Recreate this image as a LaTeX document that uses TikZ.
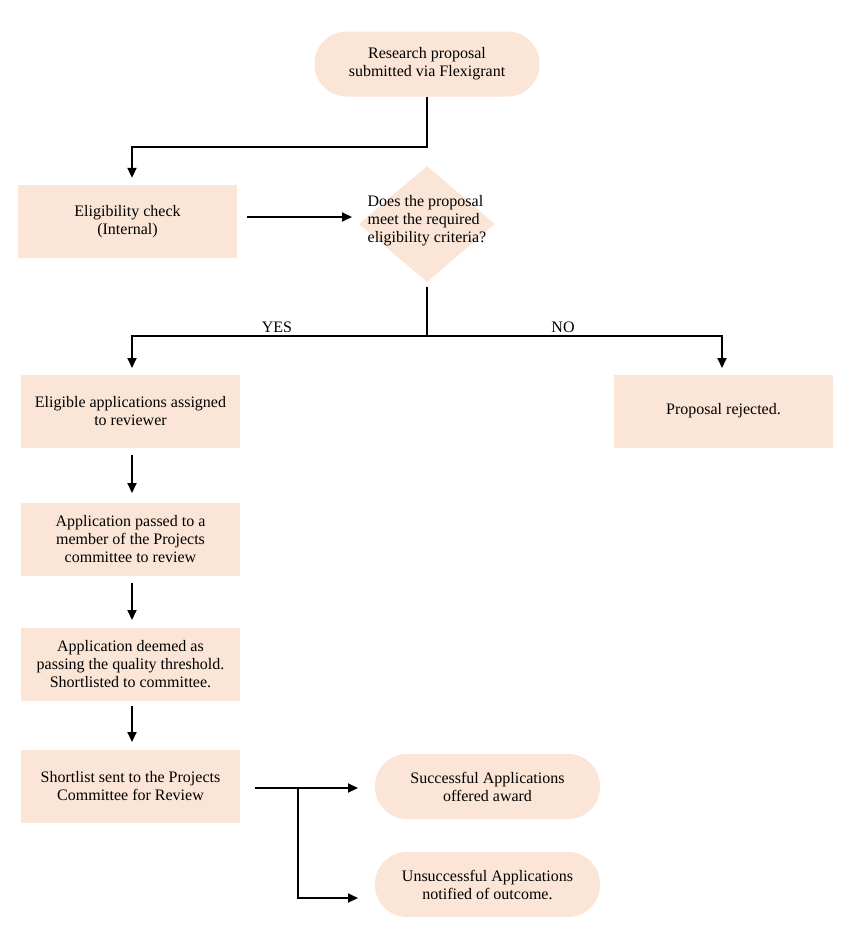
\documentclass[tikz,border=0pt]{standalone}
\usepackage{fontspec}
\setmainfont{Liberation Serif}
\usetikzlibrary{shapes.geometric,arrows.meta}
\definecolor{peach}{HTML}{FBE5D6}
\begin{document}
\begin{tikzpicture}
    [x=1pt,y=-1pt,
    font=\fontsize{16}{18}\selectfont,
    box/.style = {rectangle, fill=peach, align=center,
                  minimum width=219pt, minimum height=73pt, inner sep=0pt},
    pill/.style = {rectangle, rounded corners=32pt, fill=peach, align=center,
                   minimum width=225pt, minimum height=65pt, inner sep=0pt},
    flow/.style = {line width=2pt, -{Triangle[length=10pt,width=9pt]}},
    link/.style = {line width=2pt}]
    \useasboundingbox (0,0) rectangle (860,935);
    % Inicio
    \node[pill] (start) at (427,64) {Research proposal\\submitted via Flexigrant};
    % Comprobacion
    \node[box] (check) at (127.5,221.5) {Eligibility check\\(Internal)};
    \node[diamond, fill=peach, minimum width=136pt, minimum height=116pt, inner sep=0pt,
          label={[align=left,yshift=3pt]center:Does the proposal\\meet the required\\eligibility criteria?}]
          (question) at (427,224) {};
    % Rama YES / NO
    \node[box] (eligible) at (130.5,411) {Eligible applications assigned\\to reviewer};
    \node[box] (rejected) at (723.5,411) {Proposal rejected.};
    \node[box] (passed) at (130.5,539.5) {Application passed to a\\member of the Projects\\committee to review};
    \node[box] (deemed) at (130.5,664) {Application deemed as\\passing the quality threshold.\\Shortlisted to committee.};
    \node[box] (shortlist) at (130.5,786) {Shortlist sent to the Projects\\Committee for Review};
    % Resultado
    \node[pill] (success) at (487.5,786.5) {Successful Applications\\offered award};
    \node[pill] (fail) at (487.5,884.5) {Unsuccessful Applications\\notified of outcome.};
    % Puntos de union
    \coordinate (split) at (427,336);
    \coordinate (fork) at (298,788);
    % Conectores
    \draw[flow] (start.south) -- (427,147) -| ([yshift=7pt]check.north -| 132,0);
    \draw[flow] (247,217) -- (352,217);
    \draw[link] (427,287) -- (split);
    \draw[flow] (split) -| (132,368);
    \draw[flow] (split) -| (722,368);
    \draw[flow] (132,455) -- (132,493);
    \draw[flow] (132,583) -- (132,620);
    \draw[flow] (132,706) -- (132,742);
    \draw[flow] (255,788) -- (358,788);
    \draw[flow] (fork) |- (358,898);
    % Etiquetas
    \node (yes) at (277,327) {YES};
    \node (no) at (563,327) {NO};
\end{tikzpicture}
\end{document}
